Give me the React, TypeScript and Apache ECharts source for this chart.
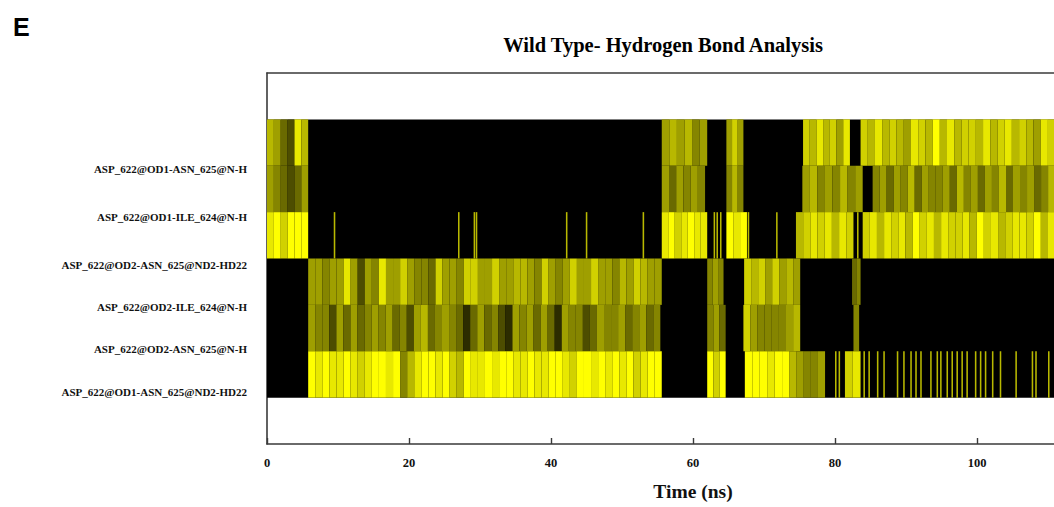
import React, { useEffect, useRef } from "react";
import * as echarts from "echarts";

// Bond names (axis labels, top to bottom)
const bondLabels = [
  "ASP_622@OD1-ASN_625@N-H",
  "ASP_622@OD1-ILE_624@N-H",
  "ASP_622@OD2-ASN_625@ND2-HD22",
  "ASP_622@OD2-ILE_624@N-H",
  "ASP_622@OD2-ASN_625@N-H",
  "ASP_622@OD1-ASN_625@ND2-HD22",
];
const labelValues = [5.93, 4.9, 3.86, 2.95, 2.04, 1.13];

const timeMin = 0;
const timeMax = 120;
const timeStep = 20;
const shownTimeLabels = [0, 20, 40, 60, 80, 100];

// Occupancy segments: [start ns, end ns, occupancy digits 0-9 spread evenly over the segment]
const row1Segments: [number, number, string][] = [
  [0, 5.8, "653286"],
  [55.6, 62.0, "565645"],
  [64.7, 67.1, "575"],
  [75.5, 82.1, "7686758"],
  [83.6, 111, "768676587696867768678676587"],
];
const row2Segments: [number, number, string][] = [
  [0, 5.8, "543235"],
  [55.6, 61.7, "535454"],
  [64.7, 67.1, "464"],
  [75.4, 83.9, "56454645"],
  [85.3, 111, "45354635445364535463545346"],
];
const row3Segments: [number, number, string][] = [
  [0, 5.8, "897999"],
  [55.6, 62.0, "8978988"],
  [64.7, 67.6, "989"],
  [74.5, 82.6, "67878687"],
  [83.9, 111, "786878697868778697867887968"],
];
const row4Segments: [number, number, string][] = [
  [5.8, 55.6, "5545585254" + "8557544375" + "5477557556" + "6547545755" + "7554657655"],
  [62.0, 64.3, "454"],
  [67.2, 75.1, "76757565"],
  [82.4, 83.6, "34"],
];
const row5Segments: [number, number, string][] = [
  [5.8, 55.4, "5442535345" + "4534256345" + "4313534215" + "4535315442" + "3544534534"],
  [62.0, 64.6, "453"],
  [67.1, 75.1, "75444456"],
  [82.6, 83.4, "4"],
];
const row6Segments: [number, number, string][] = [
  [5.8, 55.6, "9898898789" + "9894689989" + "7698898998" + "8988998799" + "8989897899"],
  [62.0, 64.6, "979"],
  [67.3, 73.6, "999899"],
  [73.6, 78.6, "65445"],
  [81.4, 83.6, "78"],
];

// Isolated short-lived bonds (single frames), ns
const row3Lines = [9.4, 26.9, 29.1, 29.4, 42.1, 44.9, 52.9, 62.9, 63.3, 63.8, 67.7, 71.7, 83.1];
const row6Lines = [
  80.0, 80.5, 84.0, 84.7, 85.9, 86.8, 88.7, 89.6, 90.6, 91.3, 92.0, 93.4, 94.3, 94.8,
  95.7, 96.4, 97.1, 97.8, 98.5, 99.7, 100.4, 101.1, 102.1, 103.2, 105.4, 107.7, 108.2, 110.0,
];
const lineWidthNs = 0.22;
const lineLevel = 6;

const allSegments = [row1Segments, row2Segments, row3Segments, row4Segments, row5Segments, row6Segments];
const allLines: number[][] = [[], [], row3Lines, [], [], row6Lines];

function buildData() {
  const out: number[][] = [];
  allSegments.forEach((segs, r) => {
    const band = 6 - r; // top row occupies y 6..7
    segs.forEach(([s, e, lv]) => {
      const w = (e - s) / lv.length;
      for (let i = 0; i < lv.length; i++) {
        const l = Number(lv[i]);
        if (l > 0) out.push([s + i * w, s + (i + 1) * w, band, l]);
      }
    });
    allLines[r].forEach((t) => out.push([t, t + lineWidthNs, band, lineLevel]));
  });
  return out;
}

const serif = "'Liberation Serif', 'Times New Roman', serif";

export default function App() {
  const ref = useRef<HTMLDivElement>(null);
  useEffect(() => {
    if (!ref.current) return;
    const chart = echarts.init(ref.current, undefined, { renderer: "svg" });
    const axisColor = "#3a3a3a";
    chart.setOption({
      animation: false,
      backgroundColor: "#ffffff",
      graphic: [
        {
          type: "text",
          left: 13,
          top: 14,
          style: { text: "E", font: "bold 25px 'Liberation Sans', Arial, sans-serif", fill: "#000" },
        },
        {
          type: "text",
          x: 663,
          y: 45,
          style: {
            text: "Wild Type- Hydrogen Bond Analysis",
            font: `bold 20.5px ${serif}`,
            fill: "#000",
            align: "center",
            verticalAlign: "middle",
          },
        },
      ],
      grid: { left: 267, top: 73, width: 852, height: 371, outerBoundsMode: "none", containLabel: false },
      xAxis: [
        {
          type: "value",
          min: timeMin,
          max: timeMax,
          interval: timeStep,
          axisLine: { show: true, lineStyle: { color: axisColor, width: 1.6 } },
          axisTick: { show: true, inside: true, length: 6, lineStyle: { color: axisColor, width: 1.4 } },
          splitLine: { show: false },
          axisLabel: {
            fontFamily: serif,
            fontWeight: "bold",
            fontSize: 12.5,
            color: "#111",
            margin: 12,
            formatter: (v: number) => (shownTimeLabels.includes(v) ? String(v) : ""),
          },
          name: "Time (ns)",
          nameLocation: "middle",
          nameGap: 37,
          nameTextStyle: { fontFamily: serif, fontWeight: "bold", fontSize: 19.5, color: "#111" },
        },
        {
          type: "value",
          position: "top",
          min: timeMin,
          max: timeMax,
          interval: timeStep,
          axisLine: { show: true, lineStyle: { color: axisColor, width: 1.6 } },
          axisTick: { show: false },
          axisLabel: { show: false },
          splitLine: { show: false },
        },
      ],
      yAxis: {
        type: "value",
        min: 0,
        max: 8,
        axisLine: { show: true, lineStyle: { color: axisColor, width: 1.6 } },
        axisTick: { show: false },
        splitLine: { show: false },
        axisLabel: {
          customValues: labelValues,
          formatter: (v: number) => {
            const i = labelValues.findIndex((x) => Math.abs(x - v) < 1e-6);
            return i >= 0 ? bondLabels[i] : "";
          },
          fontFamily: serif,
          fontWeight: "bold",
          fontSize: 11,
          color: "#111",
          margin: 20,
        },
      },
      series: [
        {
          type: "custom",
          xAxisIndex: 0,
          yAxisIndex: 0,
          clip: true,
          data: [[0, timeMax, 1, 7]],
          encode: { x: [0, 1], y: [2, 3] },
          renderItem: (params: any, api: any) => {
            const p0 = api.coord([api.value(0), api.value(3)]);
            const p1 = api.coord([api.value(1), api.value(2)]);
            return {
              type: "rect",
              shape: { x: p0[0], y: p0[1], width: p1[0] - p0[0], height: p1[1] - p0[1] },
              style: { fill: "#000000" },
            };
          },
        },
        {
          type: "custom",
          xAxisIndex: 0,
          yAxisIndex: 0,
          clip: true,
          data: buildData(),
          encode: { x: [0, 1], y: 2 },
          renderItem: (params: any, api: any) => {
            const band = api.value(2);
            const p0 = api.coord([api.value(0), band + 1]);
            const p1 = api.coord([api.value(1), band]);
            const c = Math.round(255 * Math.pow(api.value(3) / 9, 0.8));
            return {
              type: "rect",
              shape: {
                x: p0[0],
                y: p0[1],
                width: Math.max(1, p1[0] - p0[0]),
                height: p1[1] - p0[1],
              },
              style: { fill: `rgb(${c},${c},0)` },
            };
          },
        },
      ],
    });
    return () => chart.dispose();
  }, []);
  return (
    <div
      ref={ref}
      style={{ position: "fixed", left: 0, top: 0, width: 1054, height: 507, background: "#fff" }}
    />
  );
}
